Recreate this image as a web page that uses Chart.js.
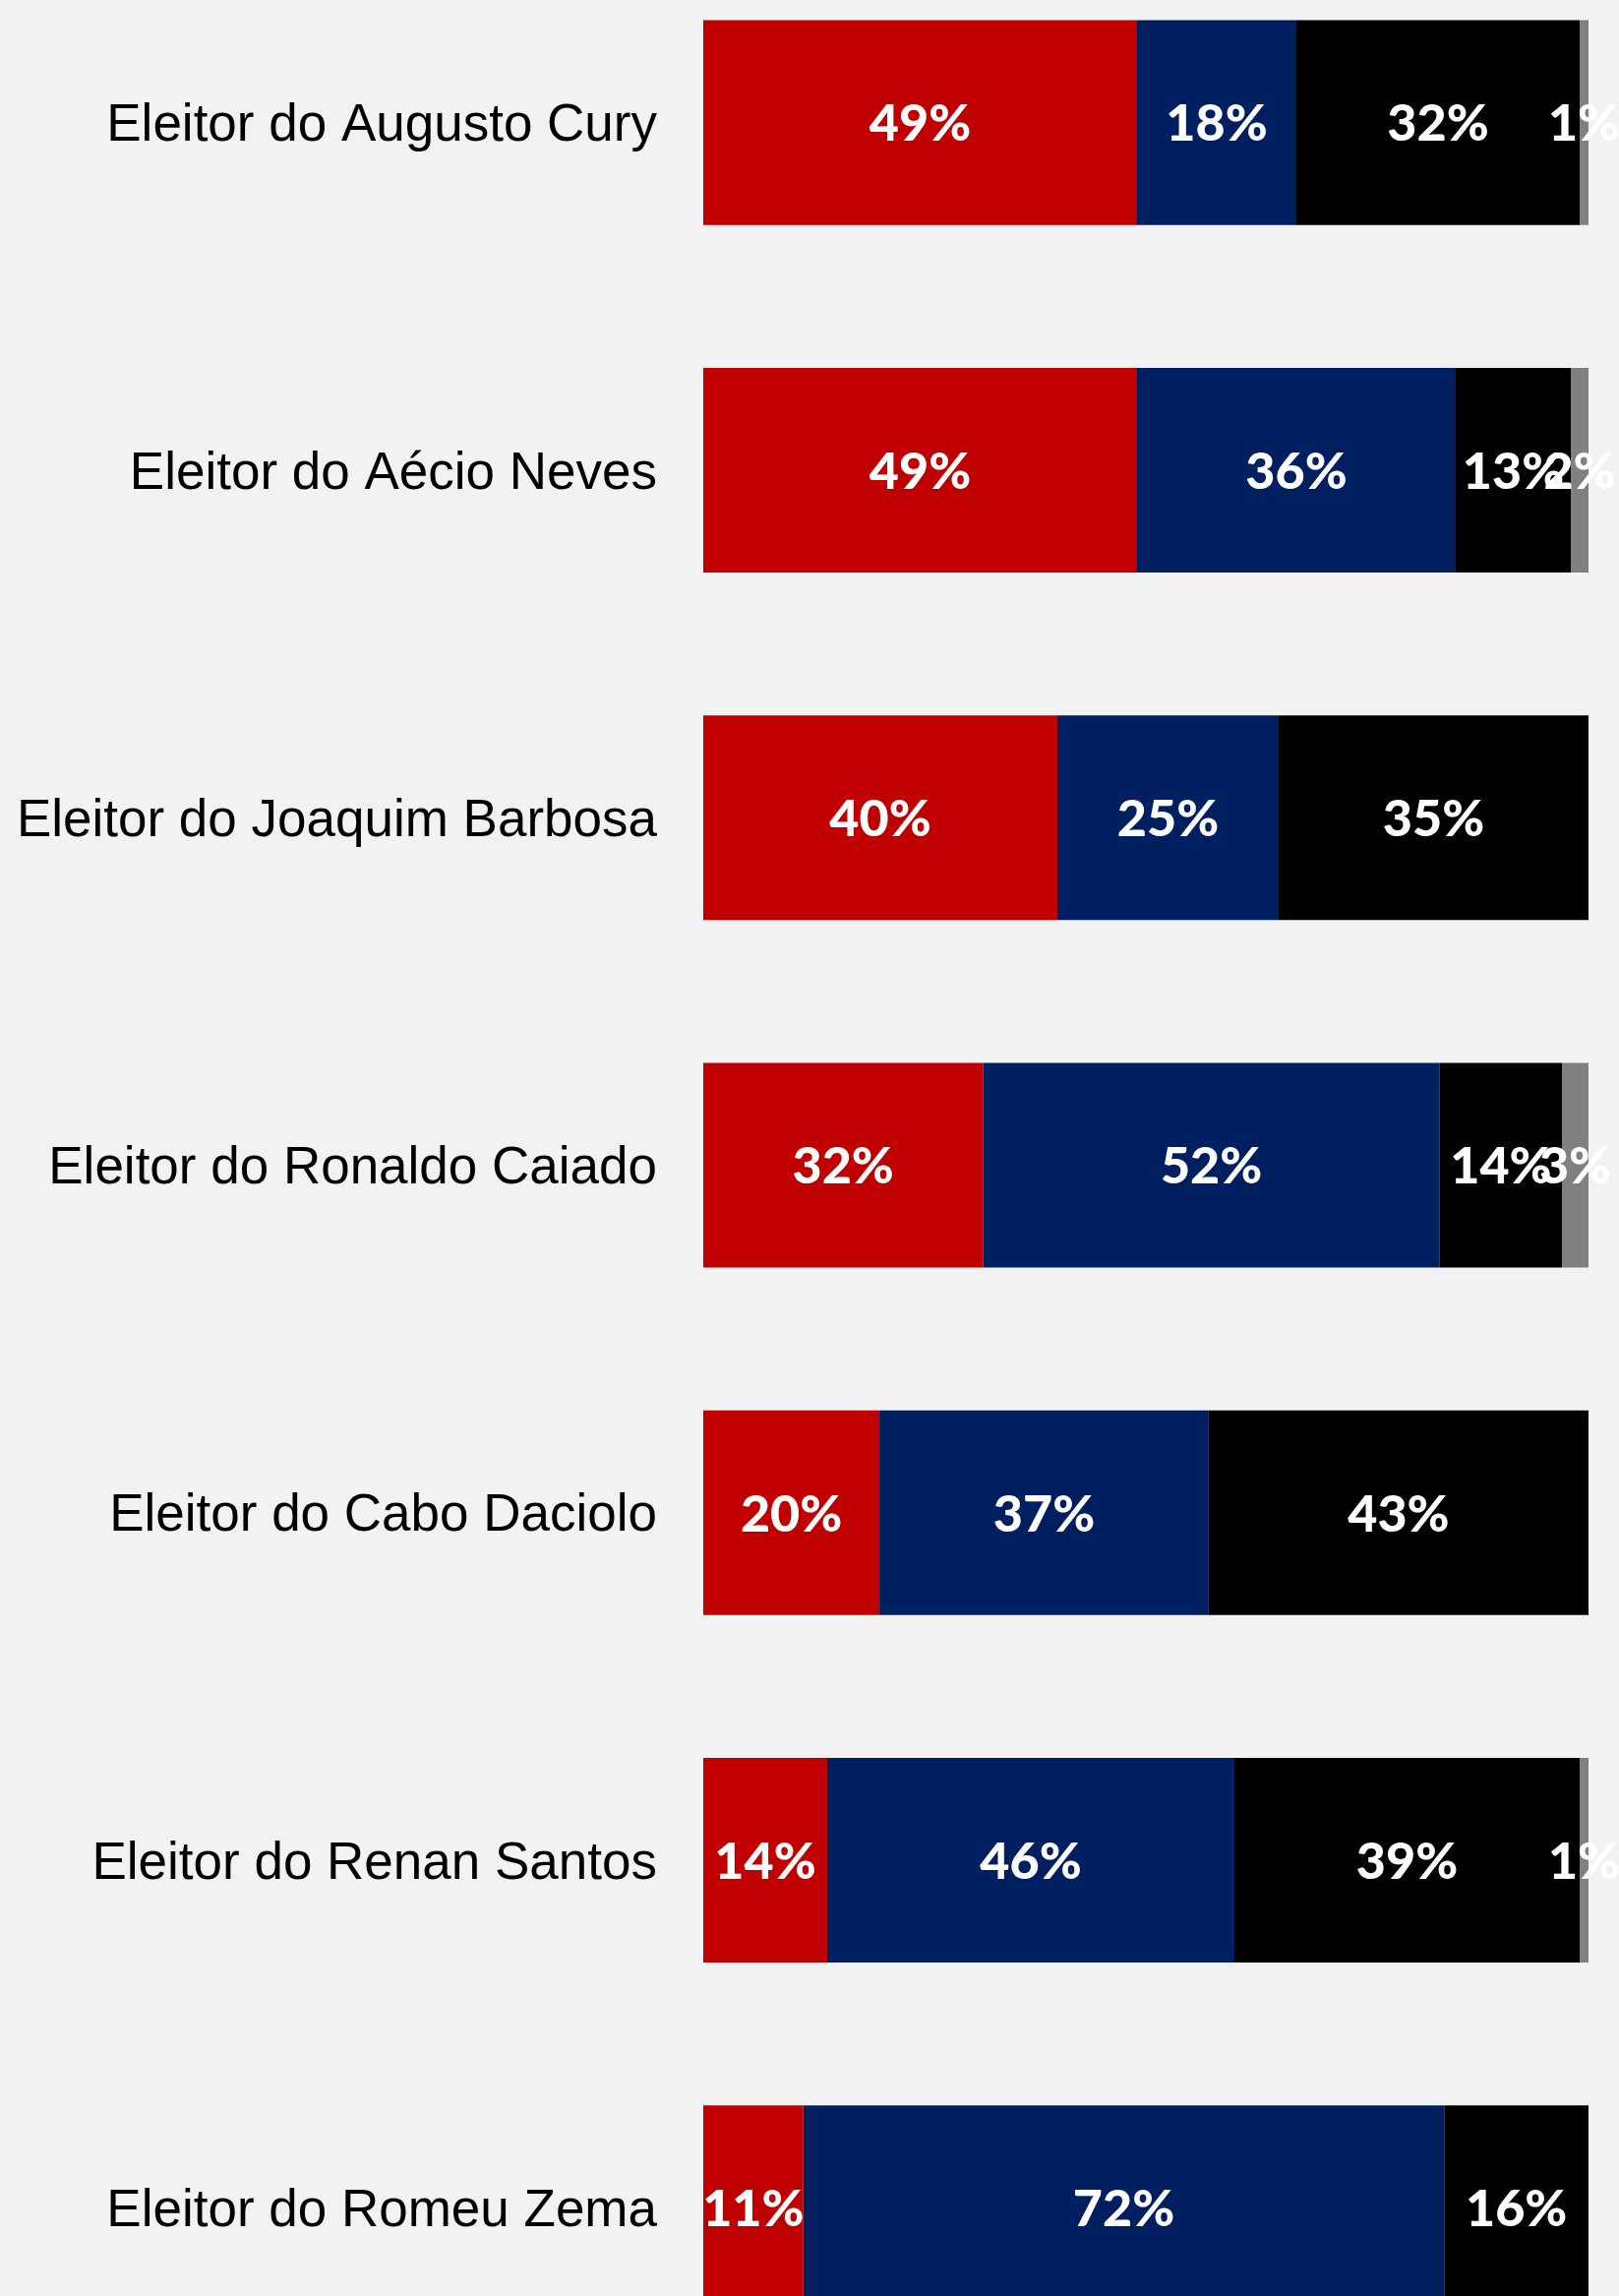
<!DOCTYPE html>
<html>
<head>
<meta charset="utf-8">
<script src="https://cdn.jsdelivr.net/npm/chart.js@4/dist/chart.umd.min.js"></script>
<style>
  html, body { margin: 0; padding: 0; background: #f2f2f2; overflow: hidden; }
  body { width: 1646px; height: 2334px; position: relative; }
  #chart { position: absolute; left: 0; top: -52px; }
</style>
</head>
<body>
<canvas id="chart" width="1646" height="2473"></canvas>
<script>
// rows (voters of each candidate)
const categories = [
    'Eleitor do Augusto Cury',
    'Eleitor do Aécio Neves',
    'Eleitor do Joaquim Barbosa',
    'Eleitor do Ronaldo Caiado',
    'Eleitor do Cabo Daciolo',
    'Eleitor do Renan Santos',
    'Eleitor do Romeu Zema'
];

// share (%) for each segment
const redValues   = [49.0, 49.0, 40.0, 31.6, 19.9, 14.0, 11.3];
const blueValues  = [18.0, 36.0, 25.0, 51.6, 37.2, 46.0, 72.4];
const blackValues = [32.0, 13.0, 35.0, 13.8, 42.9, 39.0, 16.3];
const grayValues  = [1.0, 2.0, 0, 3.0, 0, 1.0, 0];

// draws the % label in the middle of every segment
const segmentLabels = {
    id: 'segmentLabels',
    afterDatasetsDraw(chart) {
        const ctx = chart.ctx;
        ctx.save();
        ctx.fillStyle = '#ffffff';
        ctx.font = '900 52px Lato, "Noto Sans", sans-serif';
        ctx.textAlign = 'center';
        ctx.textBaseline = 'middle';
        chart.data.datasets.forEach((ds, i) => {
            const meta = chart.getDatasetMeta(i);
            meta.data.forEach((bar, j) => {
                const v = ds.data[j];
                if (!v) return;
                ctx.fillText(Math.round(v) + '%', (bar.x + bar.base) / 2, bar.y + 2);
            });
        });
        ctx.restore();
    }
};

const ctx = document.getElementById('chart').getContext('2d');
const chart = new Chart(ctx, {
    type: 'bar',
    data: {
        labels: categories,
        datasets: [
            { label: 'red', data: redValues, backgroundColor: '#c00000' },
            { label: 'blue', data: blueValues, backgroundColor: '#001f60' },
            { label: 'black', data: blackValues, backgroundColor: '#000000' },
            { label: 'gray', data: grayValues, backgroundColor: '#808080' }
        ]
    },
    options: {
        indexAxis: 'y',
        responsive: false,
        animation: false,
        layout: { padding: { left: 0, right: 31, top: 0, bottom: 0 } },
        datasets: {
            bar: { categoryPercentage: 1, barPercentage: 0.589, borderWidth: 0 }
        },
        plugins: {
            legend: { display: false },
            tooltip: { enabled: false }
        },
        scales: {
            x: {
                stacked: true,
                display: false,
                min: 0,
                max: 100
            },
            y: {
                stacked: true,
                border: { display: false },
                grid: { display: false, drawTicks: false },
                ticks: {
                    color: '#000000',
                    padding: 47,
                    labelOffset: 4,
                    font: { family: '"Liberation Sans", Arial, sans-serif', size: 53 }
                },
                afterFit(scale) {
                    scale.width = 715;
                    scale.paddingTop = 0;
                    scale.paddingBottom = 0;
                }
            }
        }
    },
    plugins: [segmentLabels]
});
</script>
</body>
</html>
